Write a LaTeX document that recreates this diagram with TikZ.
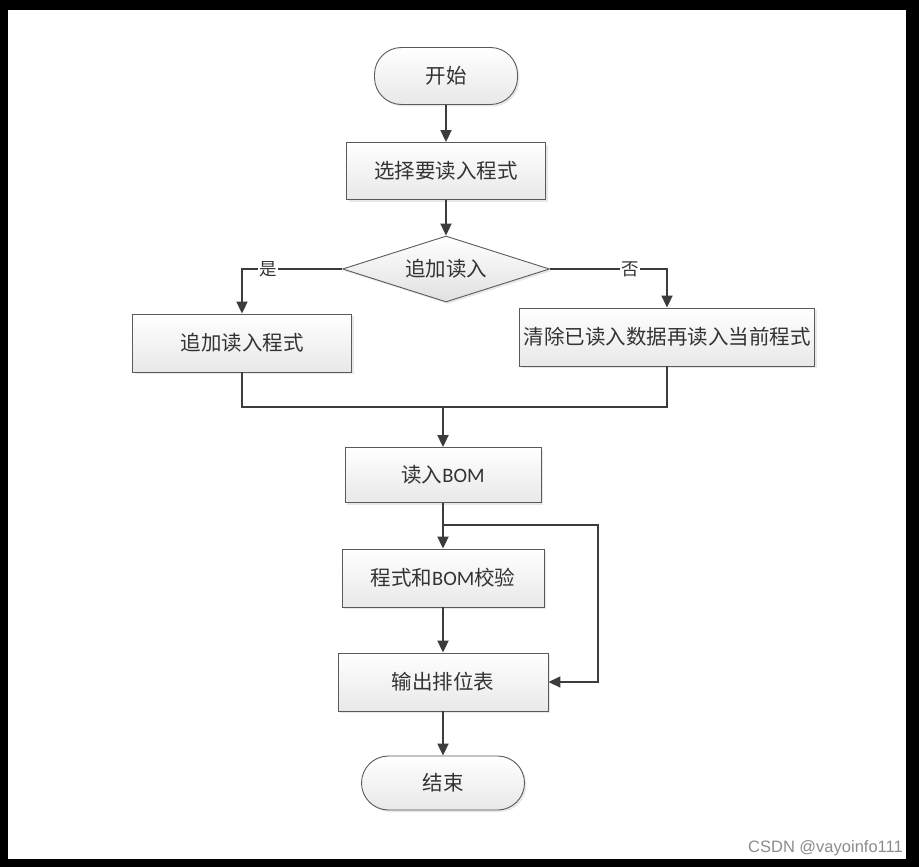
\documentclass[tikz,border=0pt]{standalone}
\usepackage{fontspec}
\setmainfont{Carlito}
\newfontfamily\cjk{Noto Sans CJK SC}
\newfontfamily\wmfont{Liberation Sans}
\usetikzlibrary{arrows.meta,shapes.geometric,shadows}
\definecolor{linec}{HTML}{3C3C3C}
\definecolor{borderc}{HTML}{5A5A5A}
\definecolor{textc}{HTML}{333333}
\tikzset{
  boxbase/.style={draw=borderc, line width=0.9pt, top color=white, bottom color=black!9,
    drop shadow={shadow xshift=2pt, shadow yshift=-2pt, opacity=0.18},
    text=textc, font=\cjk\fontsize{20.5}{20.5}\selectfont, inner sep=0pt, align=center},
  procbox/.style={boxbase, rectangle},
  termbox/.style={boxbase, rectangle, rounded corners=27pt},
  decbox/.style={boxbase, diamond, aspect=3.1, top color=white, bottom color=black!12},
  flow/.style={draw=linec, line width=2pt, -{Triangle[length=12pt,width=11pt]}},
  plainline/.style={draw=linec, line width=1.6pt},
  lbl/.style={fill=white, inner sep=1pt, text=textc, font=\cjk\fontsize{17.5}{17.5}\selectfont}
}
\begin{document}
\begin{tikzpicture}[x=1pt,y=-1pt]
\useasboundingbox (0,0) rectangle (919,867);
\fill[black] (0,0) rectangle (919,867);
\fill[white] (8,10) rectangle (906,859);

\node[termbox, minimum width=143pt, minimum height=57pt] (start) at (446,76) {开始};
\node[procbox, minimum width=199pt, minimum height=57pt] (sel) at (446,171) {选择要读入程式};
\node[decbox, minimum width=207pt, minimum height=66pt] (dec) at (446,269) {追加读入};
\node[procbox, minimum width=219pt, minimum height=58pt] (left) at (242,343) {追加读入程式};
\node[procbox, minimum width=295pt, minimum height=58pt] (right) at (667,337) {清除已读入数据再读入当前程式};
\node[procbox, minimum width=196pt, minimum height=55pt] (bom) at (443,475) {读入{\fontspec{Carlito}BOM}};
\node[procbox, minimum width=202pt, minimum height=58pt] (chk) at (443,578) {程式和{\fontspec{Carlito}BOM}校验};
\node[procbox, minimum width=210pt, minimum height=58pt] (out) at (443,682) {输出排位表};
\node[termbox, minimum width=163pt, minimum height=54pt] (end) at (443,783) {结束};

\coordinate (m) at (443,407);
\coordinate (lp) at (443,525);
\coordinate (lr) at (598,525);

\draw[flow] (start.south -| sel.north) -- (sel.north);
\draw[flow] (sel.south) -- (dec.north);
\draw[flow] (dec.west) -| (left.north);
\draw[flow] (dec.east) -| (right.north);
\node[lbl] (yes) at (268,269) {是};
\node[lbl] (no) at (630,269) {否};
\draw[plainline] (left.south) |- (m) -| (right.south);
\draw[flow] (m) -- (bom.north);
\draw[flow] (bom.south) -- (chk.north);
\draw[flow, line width=1.6pt] (lp) -- (lr) |- (out.east);
\draw[flow] (chk.south) -- (out.north);
\draw[flow] (out.south) -- (end.north);

\node[anchor=east, text=black!45, font=\wmfont\fontsize{16.5}{16.5}\selectfont, inner sep=0pt] (wm) at (903,848) {CSDN @vayoinfo111};
\end{tikzpicture}
\end{document}
